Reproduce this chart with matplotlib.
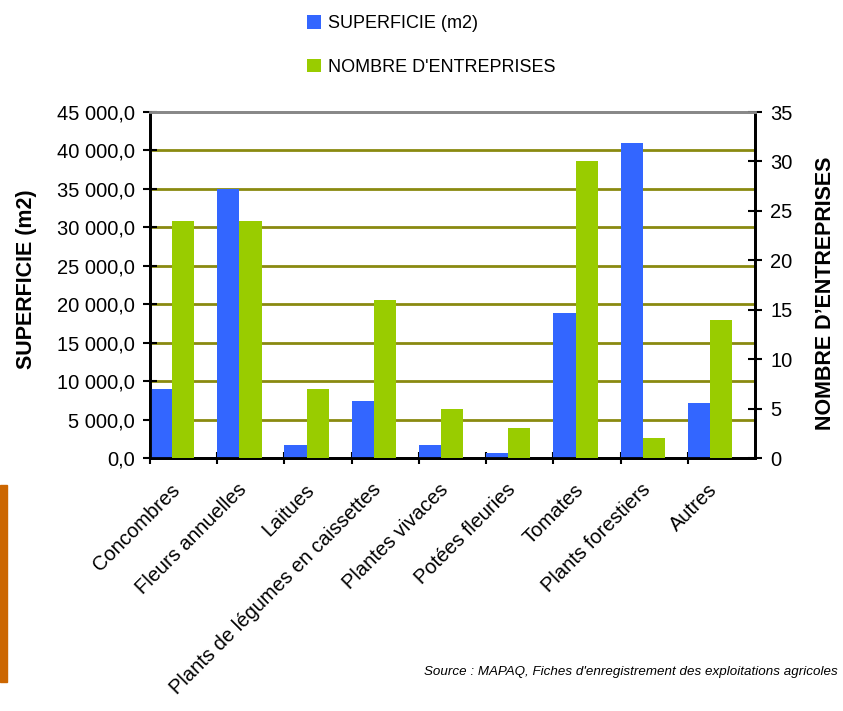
import matplotlib
matplotlib.use('Agg')
import matplotlib.pyplot as plt
from matplotlib.patches import Rectangle, Patch
from matplotlib.ticker import FuncFormatter, MultipleLocator
import numpy as np

plt.rcParams['font.family'] = ['Liberation Sans', 'DejaVu Sans']

# Données : serres par type de culture
cultures = ['Concombres', 'Fleurs annuelles', 'Laitues',
            'Plants de légumes en caissettes', 'Plantes vivaces',
            'Potées fleuries', 'Tomates', 'Plants forestiers', 'Autres']
superficie = [9000, 35000, 1700, 7400, 1700, 650, 18900, 41000, 7200]
entreprises = [24, 24, 7, 16, 5, 3, 30, 2, 14]

BLEU = '#3366FF'
VERT = '#99CC00'
OLIVE = '#8a8a10'

fig = plt.figure(figsize=(8.43, 7.11), dpi=100)
ax = fig.add_axes([150 / 843, 1 - 458 / 711, 605 / 843, 346 / 711])
ax2 = ax.twinx()

x = np.arange(len(cultures))
w = 0.33

ax.bar(x, superficie, width=w, align='edge', color=BLEU, zorder=3)
ax2.bar(x + w, entreprises, width=w, align='edge', color=VERT, zorder=3)

ax.set_xlim(0, len(cultures))
ax.set_ylim(0, 45000)
ax2.set_ylim(0, 35)

# Grille horizontale olive
for v in range(5000, 45000, 5000):
    ax.axhline(v, color=OLIVE, lw=2, zorder=1)

fmt = FuncFormatter(lambda v, p: f"{v:,.1f}".replace(',', ' ').replace('.', ','))
ax.yaxis.set_major_locator(MultipleLocator(5000))
ax.yaxis.set_major_formatter(fmt)
ax2.yaxis.set_major_locator(MultipleLocator(5))

# Graduations entre catégories, étiquettes décalées
ax.set_xticks(x)
ax.set_xticklabels([])
ax.set_xticks(x + 0.3, minor=True)
ax.set_xticklabels(cultures, minor=True, rotation=45, ha='right', va='top',
                   rotation_mode='anchor', fontsize=14.5)
ax.tick_params(axis='x', which='minor', length=0, pad=16)
ax.tick_params(axis='x', which='major', direction='inout', length=9, width=1.5)
ax.tick_params(axis='y', direction='inout', length=10, width=1.5, labelsize=14.5, pad=6)
ax2.tick_params(axis='y', direction='inout', length=10, width=1.5, labelsize=14.5, pad=6)

for a in (ax, ax2):
    for s in ('left', 'right', 'bottom'):
        a.spines[s].set_linewidth(2)
        a.spines[s].set_color('black')
    a.spines['top'].set_color('#888888')
    a.spines['top'].set_linewidth(2)

ax.set_ylabel('SUPERFICIE (m2)', fontsize=15.5, fontweight='bold')
ax.yaxis.set_label_coords(-0.186, 0.517)
ax2.set_ylabel("NOMBRE D\u2019ENTREPRISES", fontsize=15.5, fontweight='bold',
               rotation=90)
ax2.yaxis.set_label_coords(1.099, 0.477)

# Légende en haut
handles = [Patch(facecolor=BLEU), Patch(facecolor=VERT)]
fig.legend(handles, ['SUPERFICIE (m2)', "NOMBRE D'ENTREPRISES"],
           loc='upper left', bbox_to_anchor=(291 / 843, 1 + 1 / 711),
           frameon=False, fontsize=13, labelspacing=1.45,
           handlelength=0.78, handleheight=0.78, handletextpad=0.35)

fig.text(838 / 843, 1 - 672 / 711,
         "Source : MAPAQ, Fiches d'enregistrement des exploitations agricoles",
         ha='right', va='center', fontsize=9.6, style='italic')

# Bande orange à gauche
fig.patches.append(Rectangle((0, 1 - 682 / 711), 7 / 843, 197 / 711,
                             transform=fig.transFigure, color='#CC6600'))

fig.savefig('out.png', dpi=100)
